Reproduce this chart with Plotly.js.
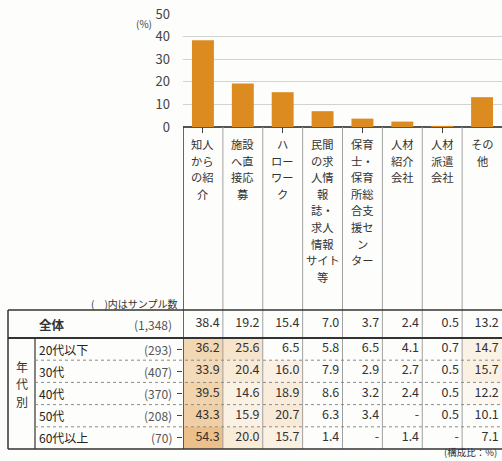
<!DOCTYPE html>
<html><head><meta charset="utf-8">
<script src="https://cdn.plot.ly/plotly-3.0.1.min.js"></script>
<style>html,body{margin:0;padding:0;background:#fdfdfb;}#chart{width:502px;height:461px;}</style>
</head><body><div id="chart"></div>
<script>
// ---- data ----
const categories = [
  ['知人', 'から', 'の紹', '介'],
  ['施設', 'へ直', '接応', '募'],
  ['ハ', 'ロー', 'ワー', 'ク'],
  ['民間', 'の求', '人情', '報', '誌・', '求人', '情報', 'サイト', '等'],
  ['保育', '士・', '保育', '所総', '合支', '援セ', 'ン', 'ター'],
  ['人材', '紹介', '会社'],
  ['人材', '派遣', '会社'],
  ['その', '他']];
const overallLabel = '全体';
const overallSample = '(1,348)';
const overallValues = [38.4, 19.2, 15.4, 7.0, 3.7, 2.4, 0.5, 13.2];
const ageGroups = ['20代以下', '30代', '40代', '50代', '60代以上'];
const ageSamples = ['(293)', '(407)', '(370)', '(208)', '(70)'];
const age20 = [36.2, 25.6, 6.5, 5.8, 6.5, 4.1, 0.7, 14.7];
const age30 = [33.9, 20.4, 16.0, 7.9, 2.9, 2.7, 0.5, 15.7];
const age40 = [39.5, 14.6, 18.9, 8.6, 3.2, 2.4, 0.5, 12.2];
const age50 = [43.3, 15.9, 20.7, 6.3, 3.4, null, 0.5, 10.1];
const age60 = [54.3, 20.0, 15.7, 1.4, null, 1.4, null, 7.1];
const ageValues = [age20, age30, age40, age50, age60];

// ---- helpers ----
const W = 502, H = 461;
const px = p => p / W;
const py = p => 1 - p / H;
const idx = categories.map((_, i) => i);
const fmt = v => (v === null ? '-' : v.toFixed(1));
const FONT = '"Noto Sans CJK JP", "Noto Sans", sans-serif';
const TXT = '#333';

const traces = [];
// bars
traces.push({
  type: 'bar', x: idx, y: overallValues, xaxis: 'x', yaxis: 'y',
  marker: {color: '#db8b1f'}, width: 0.55, hoverinfo: 'skip'
});
// shading heatmap for age rows
traces.push({
  type: 'heatmap', x: idx, y: ageGroups, xaxis: 'x', yaxis: 'y2',
  z: ageValues.map(r => r.map(v => (v === null ? 0 : v))),
  zmin: 0, zmax: 55, showscale: false, hoverinfo: 'skip', xgap: 0, ygap: 0,
  colorscale: [[0, '#fdfdfb'], [10 / 55, '#fdfdfb'], [14 / 55, '#fbf3e8'], [20 / 55, '#f8ebd8'],
    [26 / 55, '#f6e4cb'], [34 / 55, '#f3dab8'], [44 / 55, '#f0cea2'], [1, '#ecbf88']]
});
// overall row values
traces.push({
  type: 'scatter', mode: 'text', xaxis: 'x', yaxis: 'y3',
  x: idx.map(i => i + 0.42), y: idx.map(() => overallLabel),
  text: overallValues.map(fmt), textposition: 'middle left',
  textfont: {family: FONT, size: 12.5, color: TXT}, hoverinfo: 'skip', cliponaxis: false
});
// age row values
ageValues.forEach((row, r) => {
  traces.push({
    type: 'scatter', mode: 'text', xaxis: 'x', yaxis: 'y2',
    x: idx.map(i => i + 0.42), y: idx.map(() => ageGroups[r]),
    text: row.map(fmt), textposition: 'middle left',
    textfont: {family: FONT, size: 12.5, color: TXT}, hoverinfo: 'skip', cliponaxis: false
  });
});

const annotations = [];
const LINE_TOP = 144, LINE_STEP = 16.6;
categories.forEach((lines, i) => {
  lines.forEach((t, k) => {
    annotations.push({xref: 'x', x: i, yref: 'paper', y: py(LINE_TOP + k * LINE_STEP), yanchor: 'middle',
      xanchor: 'center', text: t, showarrow: false, font: {family: FONT, size: 11.3, color: TXT}});
  });
});
annotations.push({xref: 'paper', x: px(154), yref: 'paper', y: py(23), xanchor: 'right', yanchor: 'middle',
  text: '(%)', showarrow: false, font: {family: FONT, size: 10, color: '#444'}});
annotations.push({xref: 'paper', x: px(179), yref: 'paper', y: py(303), xanchor: 'right', yanchor: 'middle',
  text: '(　)内はサンプル数', showarrow: false, font: {family: FONT, size: 10, color: TXT}});
annotations.push({xref: 'paper', x: px(499), yref: 'paper', y: py(452), xanchor: 'right', yanchor: 'middle',
  text: '(構成比：%)', showarrow: false, font: {family: FONT, size: 9.5, color: TXT}});
annotations.push({xref: 'paper', x: px(37), yref: 'y3', y: overallLabel, xanchor: 'left',
  text: '<b>' + overallLabel + '</b>', showarrow: false, font: {family: FONT, size: 12.5, color: TXT}});
annotations.push({xref: 'paper', x: px(174), yref: 'y3', y: overallLabel, xanchor: 'right',
  text: overallSample, showarrow: false, font: {family: FONT, size: 12, color: '#555'}});
ageGroups.forEach((g, r) => {
  annotations.push({xref: 'paper', x: px(37), yref: 'y2', y: g, xanchor: 'left',
    text: g, showarrow: false, font: {family: FONT, size: 12, color: '#222'}});
  annotations.push({xref: 'paper', x: px(174), yref: 'y2', y: g, xanchor: 'right',
    text: ageSamples[r], showarrow: false, font: {family: FONT, size: 12, color: '#555'}});
});
['年', '代', '別'].forEach((t, k) => {
  annotations.push({xref: 'paper', x: px(22), yref: 'paper', y: py(366 + k * 17.5), xanchor: 'center',
    yanchor: 'middle', text: t, showarrow: false, font: {family: FONT, size: 12, color: TXT}});
});

const shapes = [];
const line = (x0, y0, x1, y1, color, width, dash, xref, yref) => shapes.push({
  type: 'line', xref: xref || 'paper', yref: yref || 'paper', x0, y0, x1, y1,
  line: {color, width, dash: dash || 'solid'}, layer: 'above'});
// column dividers
for (let k = 0; k < categories.length - 1; k++) {
  line(k + 0.5, py(127), k + 0.5, py(449), '#a0a0a0', 1, 'solid', 'x', 'paper');
}
// left border of value columns
line(-0.5, py(127), -0.5, py(449), '#333', 1.5, 'solid', 'x', 'paper');
// table frame
line(px(8), py(310), 1, py(310), '#333', 1.5);
line(px(8), py(338), 1, py(338), '#333', 2.2);
line(px(8), py(449), 1, py(449), '#333', 1.5);
line(px(8), py(310), px(8), py(449), '#333', 1.5);
line(px(35), py(338), px(35), py(449), '#333', 1.2);
// dotted row separators
for (let r = 0; r < ageGroups.length - 1; r++) {
  line(px(35), r + 0.5, 1, r + 0.5, '#8a8a8a', 1, 'dot', 'paper', 'y2');
}

const layout = {
  width: W, height: H, margin: {l: 0, r: 0, t: 0, b: 0},
  paper_bgcolor: '#fdfdfb', plot_bgcolor: 'rgba(0,0,0,0)', showlegend: false,
  font: {family: FONT, color: TXT},
  xaxis: {domain: [px(183), 1], range: [-0.5, 7.5], showticklabels: false, showgrid: false,
    zeroline: false, showline: false, fixedrange: true},
  yaxis: {domain: [py(127), py(14)], range: [0, 50], dtick: 10, showgrid: true, gridcolor: '#d2d2d2',
    gridwidth: 1, zeroline: true, zerolinecolor: '#555', zerolinewidth: 1.2, showline: false,
    ticks: '', ticklabelstandoff: 12, tickfont: {family: FONT, size: 13, color: '#444'}},
  yaxis2: {domain: [py(449), py(338)], type: 'category', categoryarray: ageGroups, range: [4.5, -0.5],
    showticklabels: false, showgrid: false, zeroline: false, anchor: 'x'},
  yaxis3: {domain: [py(338), py(310)], type: 'category', categoryarray: [overallLabel], range: [-0.5, 0.5],
    showticklabels: false, showgrid: false, zeroline: false, anchor: 'x'},
  annotations, shapes
};
Plotly.newPlot('chart', traces, layout, {staticPlot: true, displayModeBar: false});
</script></body></html>
